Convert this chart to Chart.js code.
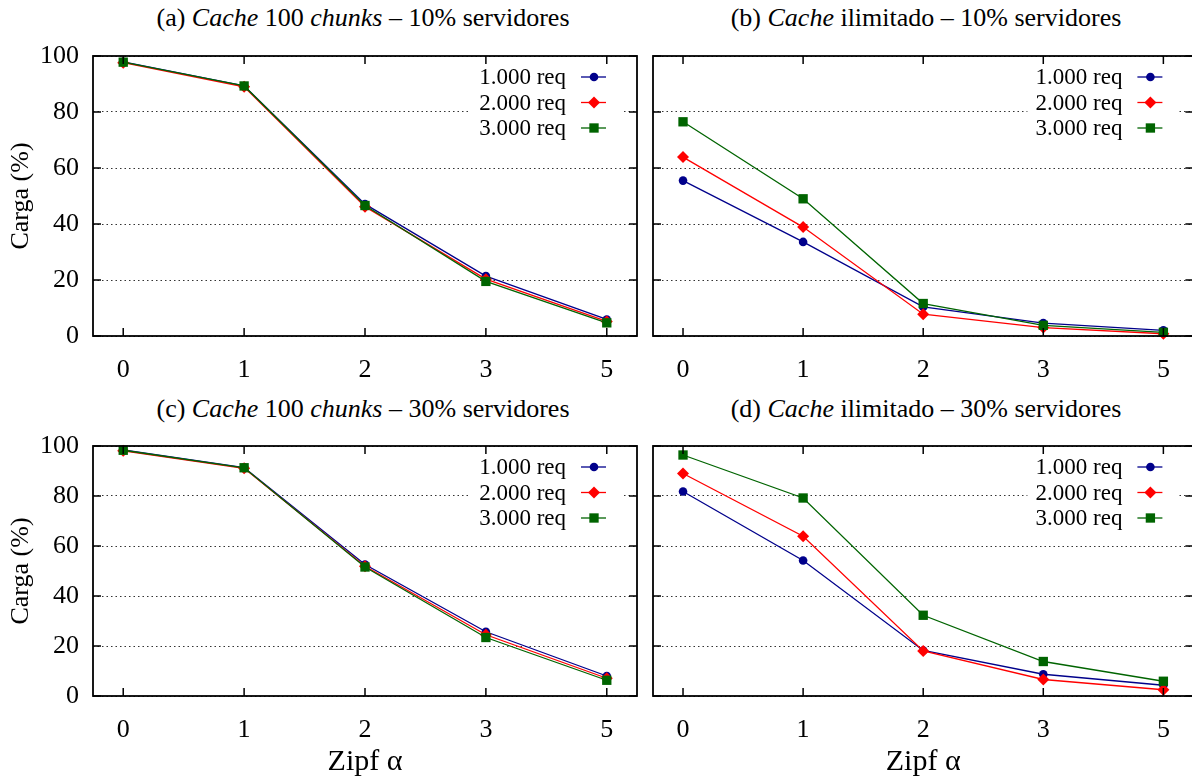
<!DOCTYPE html>
<html>
<head>
<meta charset="utf-8">
<script src="https://cdn.jsdelivr.net/npm/chart.js@4.4.0/dist/chart.umd.min.js"></script>
<style>
  html, body { margin: 0; padding: 0; background: #fff; overflow: hidden; }
  body { width: 1192px; height: 778px; position: relative; }
  .box { position: absolute; }
  .ttl {
    position: absolute; transform: translate(-50%, -50%);
    font-family: "Liberation Serif", "DejaVu Serif", serif;
    font-size: 26px; color: #000; white-space: nowrap;
  }
</style>
</head>
<body>
<div class="ttl" style="left:363px; top:18px">(a) <i>Cache</i> 100 <i>chunks</i> – 10% servidores</div>
<div class="ttl" style="left:926px; top:18px">(b) <i>Cache</i> ilimitado – 10% servidores</div>
<div class="ttl" style="left:363px; top:409px">(c) <i>Cache</i> 100 <i>chunks</i> – 30% servidores</div>
<div class="ttl" style="left:926px; top:409px">(d) <i>Cache</i> ilimitado – 30% servidores</div>

<div class="box" style="left:0; top:0;"><canvas id="chartA" width="645" height="380"></canvas></div>
<div class="box" style="left:645px; top:0;"><canvas id="chartB" width="555" height="380"></canvas></div>
<div class="box" style="left:0; top:390px;"><canvas id="chartC" width="645" height="388"></canvas></div>
<div class="box" style="left:645px; top:390px;"><canvas id="chartD" width="555" height="388"></canvas></div>

<script>
// --- DATA ---
const zipfLabels = ['0', '1', '2', '3', '5'];
const seriesNames = ['1.000 req', '2.000 req', '3.000 req'];

// (a) cache 100 chunks - 10% servidores
const a1000 = [97.9, 89.3, 47.1, 21.4, 5.9];
const a2000 = [97.6, 89.0, 46.2, 20.3, 5.2];
const a3000 = [97.8, 89.3, 46.6, 19.5, 4.7];

// (b) cache ilimitado - 10% servidores
const b1000 = [55.5, 33.6, 10.4, 4.6, 2.0];
const b2000 = [63.9, 38.9, 7.8, 3.0, 0.8];
const b3000 = [76.5, 49.0, 11.6, 3.8, 1.3];

// (c) cache 100 chunks - 30% servidores
const c1000 = [98.4, 91.4, 52.6, 25.7, 8.0];
const c2000 = [98.1, 91.1, 51.9, 24.5, 7.1];
const c3000 = [98.3, 91.3, 51.6, 23.4, 6.3];

// (d) cache ilimitado - 30% servidores
const d1000 = [81.8, 54.2, 18.2, 8.7, 4.3];
const d2000 = [89.0, 63.9, 18.0, 6.6, 2.5];
const d3000 = [96.4, 79.2, 32.3, 13.8, 5.9];

const yTicks = [0, 20, 40, 60, 80, 100];

// --- STYLE ---
const FONT = '"Liberation Serif", "DejaVu Serif", serif';
const colors = ['#00008b', '#ff0000', '#006400'];
const markers = ['circle', 'rectRot', 'rect'];
const radii = [4.3, 6, 6.6];

function drawMarker(ctx, style, x, y, r, color) {
  ctx.fillStyle = color;
  ctx.beginPath();
  if (style === 'circle') {
    ctx.arc(x, y, r, 0, Math.PI * 2);
  } else if (style === 'rectRot') {
    ctx.moveTo(x, y - r); ctx.lineTo(x + r, y); ctx.lineTo(x, y + r); ctx.lineTo(x - r, y);
    ctx.closePath();
  } else {
    const s = r * Math.SQRT1_2;
    ctx.rect(x - s, y - s, 2 * s, 2 * s);
  }
  ctx.fill();
}

// legend at top right (text left, sample right), then frame with inward ticks
const framePlugin = {
  id: 'frame',
  afterDatasetsDraw(chart) {
    const ctx = chart.ctx;
    const a = chart.chartArea;
    ctx.save();
    ctx.fillStyle = '#fff';
    ctx.fillRect(a.right - 166, a.top + 9, 150, 82);
    ctx.font = '23px ' + FONT;
    ctx.textAlign = 'right';
    ctx.textBaseline = 'middle';
    chart.data.datasets.forEach((ds, i) => {
      const y = a.top + 21 + i * 25.5;
      ctx.fillStyle = '#000';
      ctx.fillText(ds.label, a.right - 71, y + 1);
      ctx.strokeStyle = ds.borderColor;
      ctx.lineWidth = 1.3;
      ctx.beginPath();
      ctx.moveTo(a.right - 56, y);
      ctx.lineTo(a.right - 31, y);
      ctx.stroke();
      drawMarker(ctx, ds.pointStyle, a.right - 43, y, ds.pointRadius, ds.borderColor);
    });
    ctx.restore();
  },
  afterDraw(chart) {
    const ctx = chart.ctx;
    const a = chart.chartArea;
    const xs = chart.scales.x, ys = chart.scales.y;
    ctx.save();
    ctx.strokeStyle = '#000';
    ctx.lineWidth = 1.5;
    ctx.beginPath();
    zipfLabels.forEach((lab, i) => {
      const px = xs.getPixelForValue(i);
      ctx.moveTo(px, a.bottom); ctx.lineTo(px, a.bottom - 8);
      ctx.moveTo(px, a.top); ctx.lineTo(px, a.top + 8);
    });
    yTicks.forEach(v => {
      const py = ys.getPixelForValue(v);
      ctx.moveTo(a.left, py); ctx.lineTo(a.left + 8, py);
      ctx.moveTo(a.right, py); ctx.lineTo(a.right - 8, py);
    });
    ctx.stroke();
    ctx.lineWidth = 1.8;
    ctx.strokeRect(a.left, a.top, a.right - a.left, a.bottom - a.top);
    ctx.restore();
  }
};

// --- CREATE CHART ---
function makeChart(id, seriesList, opt) {
  const datasets = seriesList.map((vals, i) => ({
    label: seriesNames[i],
    data: vals.map((v, k) => ({ x: k, y: v })),
    borderColor: colors[i],
    backgroundColor: colors[i],
    borderWidth: 1.3,
    pointStyle: markers[i],
    pointRadius: radii[i],
    pointBorderWidth: 0,
    pointBackgroundColor: colors[i],
    order: 2 - i,
    clip: false
  }));

  new Chart(document.getElementById(id), {
    type: 'line',
    data: { datasets: datasets },
    options: {
      responsive: false,
      animation: false,
      events: [],
      layout: { padding: { top: opt.top, right: opt.right, left: 0, bottom: 0 } },
      plugins: { legend: { display: false }, tooltip: { enabled: false } },
      scales: {
        x: {
          type: 'linear',
          min: -0.25,
          max: 4.25,
          afterBuildTicks: s => { s.ticks = zipfLabels.map((l, i) => ({ value: i })); },
          afterFit: s => { s.height = opt.xh; },
          grid: { display: false },
          border: { display: false },
          ticks: {
            callback: v => zipfLabels[v],
            font: { family: FONT, size: 26 },
            color: '#000',
            padding: 11,
            maxRotation: 0
          },
          title: {
            display: !!opt.xTitle,
            text: opt.xTitle || '',
            font: { family: FONT, size: 30, lineHeight: 1 },
            color: '#000',
            padding: { top: 0, bottom: 1 }
          }
        },
        y: {
          min: 0,
          max: 100,
          afterBuildTicks: s => { s.ticks = yTicks.map(v => ({ value: v })); },
          afterFit: s => { s.width = opt.yw; },
          grid: { color: '#333', lineWidth: 1, drawTicks: false },
          border: { display: false, dash: [1.5, 3] },
          ticks: {
            display: opt.yLabels,
            font: { family: FONT, size: 26 },
            color: '#000',
            padding: 14
          },
          title: {
            display: opt.yLabels,
            text: 'Carga (%)',
            font: { family: FONT, size: 26, lineHeight: 1 },
            color: '#000',
            padding: { top: 8, bottom: 0 }
          }
        }
      }
    },
    plugins: [framePlugin]
  });
}

// --- DRAW ALL ---
makeChart('chartA', [a1000, a2000, a3000], { top: 56, right: 8, yw: 93, xh: 44, yLabels: true });
makeChart('chartB', [b1000, b2000, b3000], { top: 56, right: 4, yw: 8, xh: 44, yLabels: false });
makeChart('chartC', [c1000, c2000, c3000], { top: 56, right: 8, yw: 93, xh: 82, yLabels: true, xTitle: 'Zipf α' });
makeChart('chartD', [d1000, d2000, d3000], { top: 56, right: 4, yw: 8, xh: 82, yLabels: false, xTitle: 'Zipf α' });
</script>
</body>
</html>
